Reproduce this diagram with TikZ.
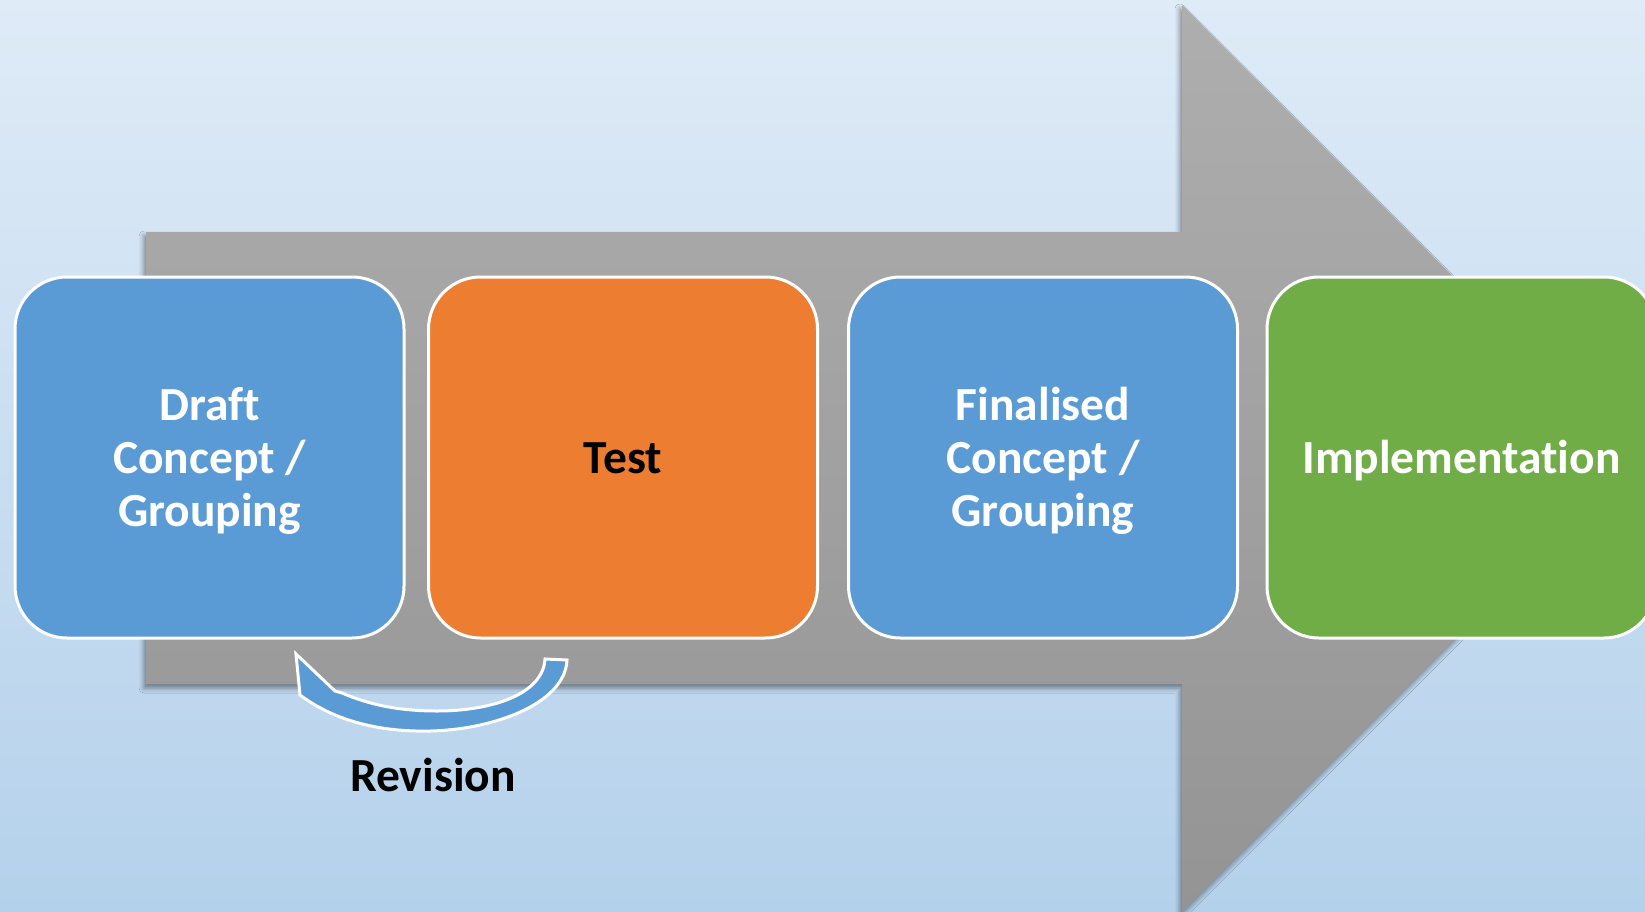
\documentclass[tikz,border=0pt]{standalone}
\usepackage{fontspec}
\setmainfont{Carlito}[Ligatures=NoCommon]
\usetikzlibrary{shadows.blur}
\definecolor{bgtop}{RGB}{223,235,247}
\definecolor{bgbot}{RGB}{180,209,235}
\definecolor{arrtop}{RGB}{174,174,174}
\definecolor{arrbot}{RGB}{148,148,148}
\definecolor{cblue}{RGB}{91,155,213}
\definecolor{corange}{RGB}{237,125,49}
\definecolor{cgreen}{RGB}{112,173,71}
\newcommand\boxlines[1]{\raisebox{-5pt}[\height][\depth]{\begin{tabular}{@{}c@{}}#1\end{tabular}}}
\begin{document}
\begin{tikzpicture}[x=1pt,y=-1pt,
  stagebox/.style={draw=white, line width=3pt, rounded corners=52pt,
    minimum width=389pt, minimum height=361pt, align=center, inner sep=0pt,
    font=\fontsize{47.5}{53}\selectfont\bfseries, text=white},
  labeltext/.style={font=\fontsize{47.5}{53}\selectfont\bfseries, text=black, inner sep=0pt},
  looparrow/.style={draw=white, line width=3pt, fill=cblue, line join=miter}]
\useasboundingbox (0,0) rectangle (1645,912);
\clip (0,0) rectangle (1645,912);
\shade[top color=bgtop, bottom color=bgbot] (0,0) rectangle (1645,912);
\path[top color=arrtop, bottom color=arrbot,
  blur shadow={shadow xshift=-2pt, shadow yshift=-4pt, shadow blur radius=5pt, shadow opacity=45}]
  (146,232) -- (1182,232) -- (1182,5) -- (1635,458.5) -- (1182,912) -- (1182,684) -- (146,684) -- cycle;
\node[stagebox, fill=cblue] (draft) at (209.5,457.5) {\boxlines{Draft\\Concept /\\Grouping}};
\node[stagebox, fill=corange, text=black] (test) at (623,457.5) {\boxlines{Test}};
\node[stagebox, fill=cblue] (final) at (1043,457.5) {\boxlines{Finalised\\Concept /\\Grouping}};
\node[stagebox, fill=cgreen] (impl) at (1461.5,457.5) {\boxlines{Implementation}};
\path[looparrow] (296,654) -- (300,695) .. controls (340,725) and (390,732) .. (430,731)
  .. controls (490,730) and (565,705) .. (567,660) -- (545,659)
  .. controls (543,695) and (490,711) .. (437,711)
  .. controls (400,711) and (370,705) .. (342,693) -- (335,691) -- cycle;
\node[labeltext] (rev) at (433,775) {Revision};
\end{tikzpicture}
\end{document}
